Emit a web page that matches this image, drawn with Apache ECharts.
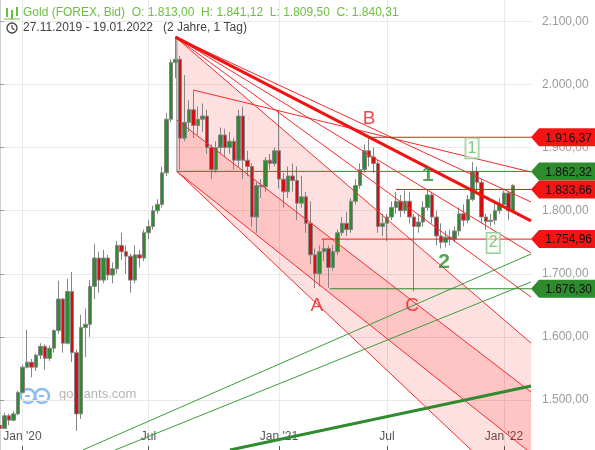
<!DOCTYPE html>
<html>
<head>
<meta charset="utf-8">
<script src="https://cdn.jsdelivr.net/npm/echarts@6/dist/echarts.min.js"></script>
<style>
html,body{margin:0;padding:0;background:#fff;}
#chart{width:595px;height:450px;}
</style>
</head>
<body>
<div id="chart"></div>
<script>
// Gold (FOREX, Bid), weekly-sized slots from 27.11.2019 to 19.01.2022
const slotCount = 119;
const tickSlots = [5, 33, 62, 86, 112];
const tickLabels = ["Jan '20", 'Jul', "Jan '21", 'Jul', "Jan '22"];

const opens = [1460,1455,1475,1468,1478,1512,1552,1560,1552,1571,1585,1566,1582,1610,1660,1590,1672,1575,1478,1615,
  1620,1680,1725,1690,1725,1698,1708,1745,1735,1728,1690,1730,1725,1765,1775,1800,1810,1860,1945,2035,
  2040,1915,1940,1960,1935,1945,1950,1900,1865,1900,1920,1900,1910,1880,1950,1880,1870,1790,1840,1838,
  1880,1875,1895,1850,1830,1855,1848,1812,1822,1780,1730,1700,1735,1740,1710,1735,1765,1780,1770,1815,
  1840,1865,1895,1885,1875,1775,1780,1790,1805,1815,1800,1815,1790,1775,1782,1805,1825,1790,1760,1750,
  1758,1755,1768,1795,1785,1818,1862,1845,1790,1783,1785,1800,1810,1828,1800];
const closes = [1455,1475,1468,1478,1512,1552,1560,1552,1571,1585,1566,1582,1610,1660,1590,1672,1575,1478,1615,1620,
  1680,1725,1690,1725,1698,1708,1745,1735,1728,1690,1730,1725,1765,1775,1800,1810,1860,1945,2035,2040,
  1915,1940,1960,1935,1945,1950,1900,1865,1900,1920,1900,1910,1880,1950,1880,1870,1790,1840,1838,1880,
  1875,1895,1850,1830,1855,1848,1812,1822,1780,1730,1700,1735,1740,1710,1735,1765,1780,1770,1815,1840,
  1865,1895,1885,1875,1775,1780,1790,1805,1815,1800,1815,1790,1775,1782,1805,1825,1790,1760,1750,1758,
  1755,1768,1795,1785,1818,1862,1845,1790,1783,1785,1800,1810,1828,1800,1840];
const lows = [1452,1455,1460,1466,1476,1510,1550,1536,1546,1565,1548,1562,1575,1605,1575,1588,1560,1451,1470,1568,
  1600,1660,1670,1685,1690,1685,1700,1722,1700,1670,1685,1710,1720,1755,1770,1795,1805,1855,1940,2010,
  1865,1910,1925,1915,1920,1925,1890,1850,1860,1890,1885,1890,1865,1870,1850,1855,1775,1765,1820,1830,
  1865,1870,1835,1805,1820,1830,1785,1805,1765,1715,1677,1680,1720,1678,1705,1730,1760,1760,1765,1810,
  1835,1860,1870,1860,1765,1760,1752,1785,1795,1790,1795,1780,1672,1765,1775,1800,1780,1745,1740,1742,
  1745,1750,1760,1775,1780,1815,1830,1780,1770,1775,1778,1795,1805,1785,1798];
const highs = [1464,1480,1478,1482,1515,1556,1611,1565,1574,1590,1588,1586,1612,1689,1662,1692,1703,1580,1635,1645,
  1690,1747,1735,1738,1730,1718,1752,1765,1745,1732,1745,1738,1770,1785,1808,1818,1870,1955,2040,2075,
  2045,2015,1975,1990,1965,1970,1960,1905,1910,1932,1930,1925,1915,1960,1965,1895,1875,1845,1850,1885,
  1890,1900,1960,1860,1870,1875,1870,1855,1830,1815,1740,1745,1755,1745,1745,1770,1790,1798,1820,1850,
  1875,1905,1916,1900,1880,1795,1795,1815,1830,1825,1832,1830,1795,1795,1815,1834,1830,1800,1780,1768,
  1770,1775,1805,1810,1825,1877,1870,1850,1795,1795,1815,1820,1832,1830,1842];

// Horizontal price levels with their starting slot
const levelValues = [1916.37, 1862.32, 1833.66, 1754.96, 1676.30];
const levelStarts = [82, 39.3, 88, 71.5, 73.3];
const levelColors = ['#f41414', '#2e8b2e', '#f41414', '#f41414', '#2e8b2e'];

// Trend lines: [slotA, valueA, slotB, valueB]
const thickRedLine = [39, 2075, 118, 1784];
const fanLines = [
  [42.9, 1991.3, 118, 1861.3],
  [39, 2075, 118, 1813.8],
  [39, 2075, 118, 1733.0],
  [39, 2075, 118, 1663.2],
  [39, 2075, 118, 1590.3],
  [39.3, 1943.7, 118, 1512.7],
  [39.3, 1862.32, 118, 1331.0],
  [39.3, 1862.32, 118, 1415.7]
];
const greenLines = [[18.4, 1420.8, 118, 1731.4], [25.6, 1420.8, 118, 1687]];
const thickGreenLine = [51.1, 1420.8, 118, 1522.2];
const athStem = [39.3, 2075, 39.3, 1862.32];

// Shaded channel areas: vertices as [slot, value]
const channelAreas = [
  [[39, 2075], [118, 1590.3], [118, 1331.0], [39.3, 1862.32]],
  [[39.3, 1943.7], [118, 1512.7], [118, 1415.7], [39.3, 1862.32]]
];

// Text annotations: [slot, value, text]
const waveLabels = [[70.4, 1649, 'A'], [82, 1945, 'B'], [91.6, 1649, 'C']];
const countLabels = [[95.1, 1857, '1'], [98.7, 1719, '2']];
const boxLabels = [[104.9, 1899, '1'], [109.6, 1749, '2']];

const FONT = 'Arial, "Liberation Sans", sans-serif';

function fmt(v) {
  const parts = v.toFixed(2).split('.');
  return parts[0].replace(/\B(?=(\d{3})+(?!\d))/g, '.') + ',' + parts[1];
}

const categories = Array.from({ length: slotCount }, (_, i) => String(i));
const candleData = opens.map((o, i) => [o, closes[i], lows[i], highs[i]]);
const isTick = (idx) => tickSlots.indexOf(idx) >= 0;

function seg(p, color, width, z) {
  return {
    type: 'line', xAxisIndex: 1, yAxisIndex: 0,
    data: [[p[0], p[1]], [p[2], p[3]]],
    symbol: 'none', silent: true, z: z || 5,
    lineStyle: { color: color, width: width }
  };
}

const series = [];

// pink channel fills (overlap gives the darker band)
series.push({
  type: 'custom', xAxisIndex: 1, yAxisIndex: 0, z: 1, clip: true, silent: true,
  data: channelAreas.map((a, i) => [a[0][0], a[0][1], i]),
  renderItem: function (params, api) {
    const poly = channelAreas[api.value(2)];
    return {
      type: 'polygon',
      shape: { points: poly.map(p => api.coord(p)) },
      style: { fill: 'rgba(255,0,0,0.12)' }
    };
  }
});

series.push({
  type: 'candlestick', xAxisIndex: 0, yAxisIndex: 0,
  data: candleData, barWidth: 4, z: 3,
  itemStyle: {
    color: '#2e8b2e', color0: '#d40f0f',
    borderColor: '#858585', borderColor0: '#858585', borderWidth: 1
  }
});

fanLines.forEach(l => series.push(seg(l, '#f52a2a', 1)));
series.push(seg(thickRedLine, '#f21212', 3, 6));
greenLines.forEach(l => series.push(seg(l, '#3c9c3c', 1)));
series.push(seg(thickGreenLine, '#2e8b2e', 3, 6));
series.push(seg(athStem, '#8a8a8a', 1));
levelValues.forEach((v, i) => series.push(seg([levelStarts[i], v, 118, v], levelColors[i], 1)));

// Price tags on the right axis
series.push({
  type: 'custom', xAxisIndex: 1, yAxisIndex: 0, z: 20, clip: false, silent: true,
  data: levelValues.map((v, i) => [118, v, i]),
  renderItem: function (params, api) {
    const pt = api.coord([api.value(0), api.value(1)]);
    const cs = params.coordSys;
    const x0 = cs.x + cs.width;
    const y = pt[1];
    const h = 18, tip = 8, w = 64;
    const color = levelColors[api.value(2)];
    return {
      type: 'group',
      children: [
        { type: 'polygon', shape: { points: [[x0, y], [x0 + tip, y - h / 2], [x0 + w, y - h / 2], [x0 + w, y + h / 2], [x0 + tip, y + h / 2]] }, style: { fill: color } },
        { type: 'text', style: { text: fmt(api.value(1)), x: x0 + w - 3, y: y + 1, align: 'right', verticalAlign: 'middle', fill: '#111', font: '12px ' + FONT } }
      ]
    };
  }
});

function textSeries(items, labelStyle) {
  return {
    type: 'scatter', xAxisIndex: 1, yAxisIndex: 0, z: 15, silent: true,
    symbolSize: 1, itemStyle: { color: 'rgba(0,0,0,0)' },
    data: items.map(d => ({ value: [d[0], d[1]], name: d[2] })),
    label: Object.assign({ show: true, position: 'inside', formatter: p => p.name, fontFamily: FONT }, labelStyle)
  };
}
series.push(textSeries(waveLabels, { color: '#f01a1a', fontSize: 19 }));
series.push(textSeries(countLabels, { color: '#2e8b2e', fontSize: 21, fontWeight: 'bold' }));
series.push(textSeries(boxLabels, { color: '#5cb85c', fontSize: 16, borderColor: '#7cc47c', borderWidth: 1, padding: [3, 2, 1, 2], backgroundColor: 'rgba(255,255,255,0.6)' }));

const option = {
  animation: false,
  backgroundColor: '#fff',
  grid: { left: 0, right: 64, top: -41.7, bottom: -13.1, containLabel: false, outerBoundsMode: 'none' },
  xAxis: [
    {
      type: 'category', data: categories, boundaryGap: false,
      axisLine: { show: false },
      axisTick: { show: true, inside: true, length: 17, interval: isTick, lineStyle: { color: '#555' } },
      axisLabel: {
        show: true, inside: true, margin: 20, interval: isTick, color: '#555', fontSize: 12, fontFamily: FONT,
        formatter: (val, idx) => tickLabels[tickSlots.indexOf(Number(val))] || ''
      },
      splitLine: { show: true, interval: isTick, lineStyle: { color: '#e9e9e9', width: 1 } }
    },
    { type: 'value', min: 0, max: slotCount - 1, show: false }
  ],
  yAxis: {
    type: 'value', position: 'right', min: 1400, max: 2200, interval: 100,
    axisLine: { show: true, lineStyle: { color: '#d0d0d0' } },
    axisTick: { show: true, length: 4, lineStyle: { color: '#999' } },
    axisLabel: { color: '#9a9a9a', fontSize: 12, fontFamily: FONT, margin: 11, formatter: v => fmt(v) },
    splitLine: { show: true, lineStyle: { color: '#e9e9e9', width: 1 } }
  },
  graphic: [
    // header: instrument line
    { type: 'rect', z: 50, shape: { x: 6, y: 8, width: 2, height: 9 }, style: { fill: '#6cbf3c' } },
    { type: 'rect', z: 50, shape: { x: 11, y: 10, width: 2, height: 9 }, style: { fill: '#6cbf3c' } },
    { type: 'rect', z: 50, shape: { x: 16, y: 7, width: 2, height: 9 }, style: { fill: '#6cbf3c' } },
    { type: 'line', z: 50, shape: { x1: 4, y1: 19, x2: 20, y2: 19 }, style: { stroke: '#6cbf3c', lineWidth: 1 } },
    { type: 'text', z: 50, left: 23, top: 7, style: { text: 'Gold (FOREX, Bid)  O: 1.813,00  H: 1.841,12  L: 1.809,50  C: 1.840,31', fill: '#6cbf3c', font: '12px ' + FONT } },
    // header: period line
    { type: 'circle', z: 50, shape: { cx: 12, cy: 28, r: 5 }, style: { fill: 'none', stroke: '#444', lineWidth: 1.3 } },
    { type: 'polyline', z: 50, shape: { points: [[12, 25], [12, 28], [14.5, 30]] }, style: { fill: 'none', stroke: '#444', lineWidth: 1.2 } },
    { type: 'text', z: 50, left: 23, top: 22, style: { text: '27.11.2019 - 19.01.2022   (2 Jahre, 1 Tag)', fill: '#444', font: '12px ' + FONT } },
    // watermark
    { type: 'circle', z: 0, shape: { cx: 28, cy: 396, r: 7 }, style: { fill: 'none', stroke: '#8dbcf2', lineWidth: 2.5 } },
    { type: 'circle', z: 0, shape: { cx: 42, cy: 396, r: 7 }, style: { fill: 'none', stroke: '#8dbcf2', lineWidth: 2.5 } },
    { type: 'line', z: 0, shape: { x1: 25, y1: 396, x2: 30, y2: 396 }, style: { stroke: '#8dbcf2', lineWidth: 2 } },
    { type: 'line', z: 0, shape: { x1: 39, y1: 396, x2: 44, y2: 396 }, style: { stroke: '#8dbcf2', lineWidth: 2 } },
    { type: 'text', z: 0, left: 59, top: 388, style: { text: 'goldants.com', fill: '#b4b4b4', font: '13px ' + FONT } }
  ],
  series: series
};

const chart = echarts.init(document.getElementById('chart'), null, { renderer: 'canvas' });
chart.setOption(option);
</script>
</body>
</html>
